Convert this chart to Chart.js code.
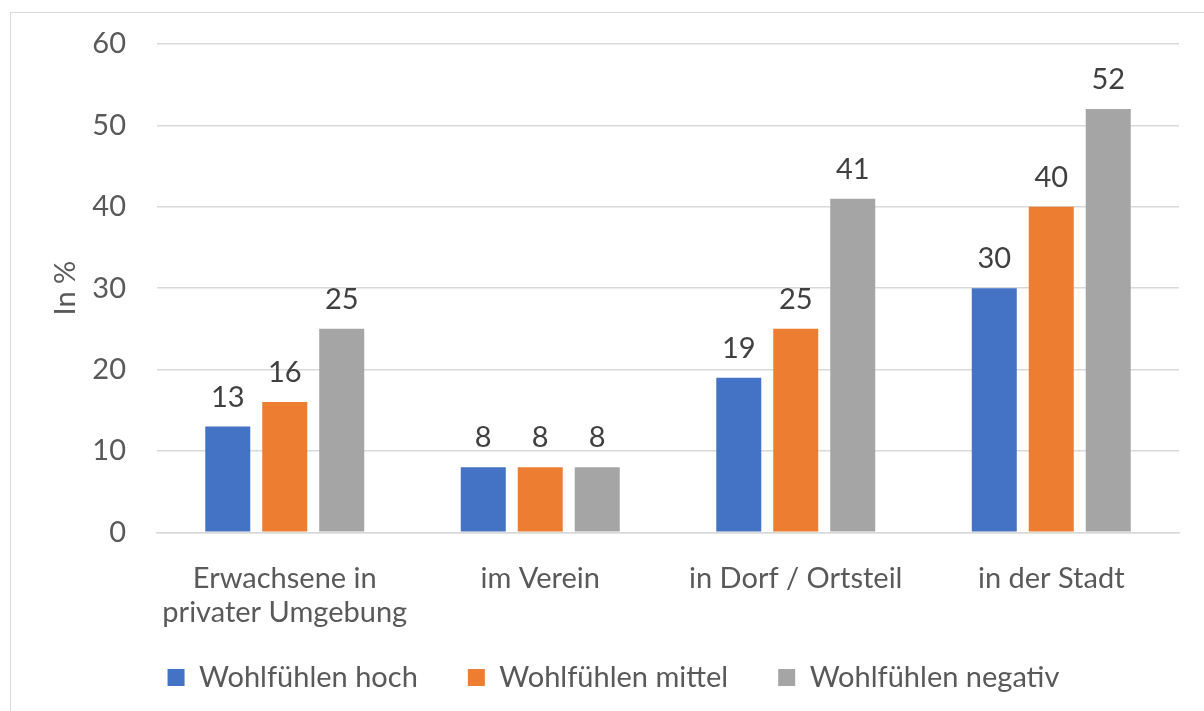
<!DOCTYPE html>
<html>
<head>
<meta charset="utf-8">
<script src="https://cdn.jsdelivr.net/npm/chart.js@4"></script>
<style>
    html, body { margin: 0; padding: 0; background: #ffffff; overflow: hidden; }
    #wrap { position: relative; width: 1204px; height: 711px; }
    #frame { position: absolute; left: 10px; top: 12px; width: 1300px; height: 800px; border: 1px solid #d9d9d9; }
    canvas { position: absolute; left: 0; top: 0; }
</style>
</head>
<body>
<div id="wrap">
    <div id="frame"></div>
    <canvas id="myChart" width="1204" height="711"></canvas>
</div>
<script>
    const categories = [['Erwachsene in', 'privater Umgebung'], 'im Verein', 'in Dorf / Ortsteil', 'in der Stadt'];
    const seriesNames = ['Wohlfühlen hoch', 'Wohlfühlen mittel', 'Wohlfühlen negativ'];
    const hoch = [13, 8, 19, 30];
    const mittel = [16, 8, 25, 40];
    const negativ = [25, 8, 41, 52];
    const yTicks = [0, 10, 20, 30, 40, 50, 60];

    const fontFamily = 'Lato, "Open Sans", sans-serif';
    const textColor = '#595959';
    const axisShrink = 38; // x-Achse schmaler, damit die Legende näher rückt

    // Werte über die Balken schreiben
    const valueLabels = {
        id: 'valueLabels',
        afterLayout(chart) {
            // Beschriftung der x-Achse nicht abschneiden
            chart.scales.x.bottom += axisShrink;
        },
        afterDatasetsDraw(chart) {
            const ctx = chart.ctx;
            ctx.save();
            ctx.font = '29px ' + fontFamily;
            ctx.fillStyle = '#404040';
            ctx.textAlign = 'center';
            ctx.textBaseline = 'alphabetic';
            chart.data.datasets.forEach((ds, i) => {
                chart.getDatasetMeta(i).data.forEach((bar, j) => {
                    ctx.fillText(ds.data[j], bar.x, bar.y - 20);
                });
            });
            ctx.restore();
        }
    };

    new Chart(document.getElementById('myChart'), {
        type: 'bar',
        data: {
            labels: categories,
            datasets: [
                { label: seriesNames[0], data: hoch, backgroundColor: '#4472C4' },
                { label: seriesNames[1], data: mittel, backgroundColor: '#ED7D31' },
                { label: seriesNames[2], data: negativ, backgroundColor: '#A5A5A5' }
            ]
        },
        options: {
            responsive: false,
            animation: false,
            categoryPercentage: 0.669,
            barPercentage: 0.79,
            layout: { padding: { left: 48, right: 25, top: 10, bottom: 9 } },
            plugins: {
                tooltip: { enabled: false },
                legend: {
                    position: 'bottom',
                    labels: {
                        boxWidth: 17,
                        boxHeight: 17,
                        padding: 50,
                        color: textColor,
                        font: { family: fontFamily, size: 29 }
                    }
                }
            },
            scales: {
                x: {
                    afterFit: scale => { scale.height -= axisShrink; },
                    grid: { display: false },
                    border: { color: '#d9d9d9', width: 1.5 },
                    ticks: {
                        color: textColor,
                        padding: 22,
                        maxRotation: 0,
                        font: { family: fontFamily, size: 29, lineHeight: 1.15 }
                    }
                },
                y: {
                    min: 0,
                    max: 60,
                    afterFit: scale => {
                        scale.width = 109;
                        scale.paddingTop = 44;
                    },
                    afterBuildTicks: scale => { scale.ticks = yTicks.map(v => ({ value: v })); },
                    border: { display: false },
                    grid: { color: '#d9d9d9', lineWidth: 1.5, drawTicks: false },
                    ticks: {
                        color: textColor,
                        padding: 31,
                        font: { family: fontFamily, size: 29 }
                    },
                    title: {
                        display: true,
                        text: 'In %',
                        color: textColor,
                        padding: 0,
                        font: { family: fontFamily, size: 29 }
                    }
                }
            }
        },
        plugins: [valueLabels]
    });
</script>
</body>
</html>
